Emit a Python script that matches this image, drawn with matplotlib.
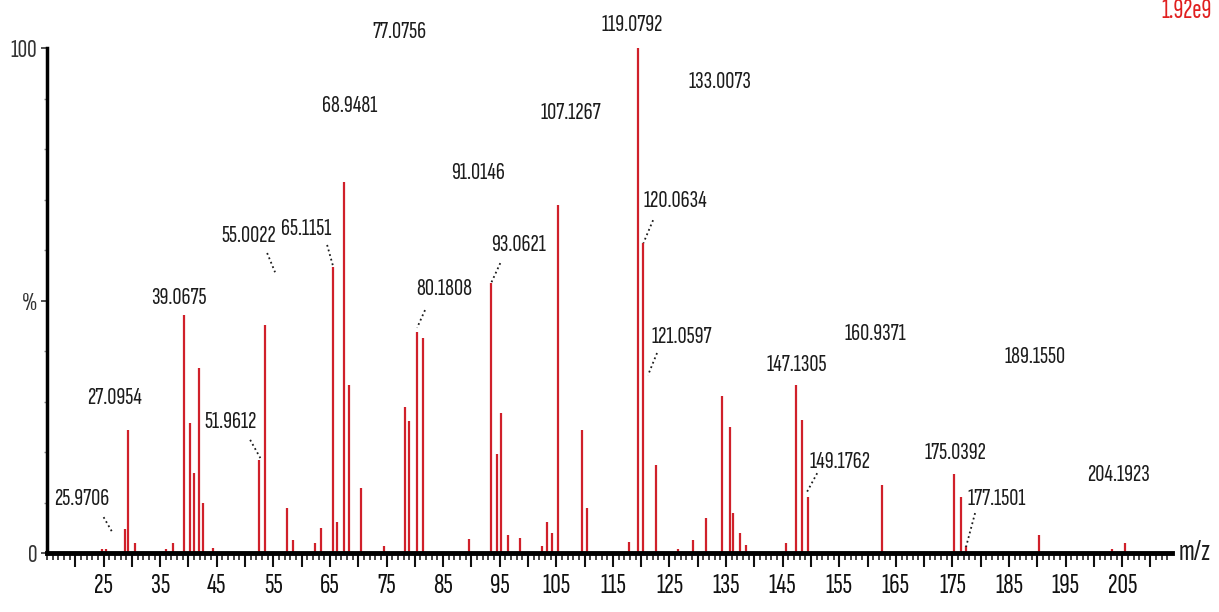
import matplotlib
matplotlib.use('Agg')
import matplotlib.pyplot as plt
from matplotlib.ticker import FixedLocator, MultipleLocator

# narrow font, the spectrum text is very condensed
plt.rcParams['font.family'] = ['Sofia Sans Extra Condensed', 'Liberation Sans Narrow', 'DejaVu Sans']

# peak list: m/z, relative intensity (%)
mz = [24.7, 25.5, 28.7, 29.4, 30.5, 36.0, 37.2, 39.26, 40.3, 41.0, 41.8, 42.5, 44.3,
      52.4, 53.6, 57.4, 58.5, 62.3, 63.4, 65.5, 66.2, 67.4, 68.4, 70.5, 74.5,
      78.3, 79.0, 80.4, 81.4, 89.6, 93.5, 94.6, 95.3, 96.4, 98.5, 102.5, 103.4, 104.2,
      105.3, 109.5, 110.5, 117.9, 119.4, 120.4, 122.6, 126.5, 129.2, 131.4, 134.3,
      135.7, 136.3, 137.5, 138.5, 145.6, 147.4, 148.4, 149.5, 162.6, 175.3, 176.5,
      177.4, 190.3, 203.2, 205.5]
intensity = [0.7, 0.7, 4.7, 24.4, 1.9, 0.7, 2.0, 47.1, 25.7, 15.9, 36.7, 10.0, 1.0,
             18.5, 45.1, 9.0, 2.6, 1.9, 5.0, 56.6, 6.2, 73.5, 33.3, 12.8, 1.3,
             29.0, 26.2, 43.8, 42.5, 2.7, 53.5, 19.6, 27.7, 3.6, 2.9, 1.3, 6.2, 4.0,
             68.9, 24.4, 9.0, 2.2, 100.0, 61.3, 17.4, 0.8, 2.6, 6.9, 31.1,
             24.9, 7.9, 4.0, 1.5, 1.9, 33.3, 26.3, 11.0, 13.5, 15.6, 11.0,
             1.3, 3.5, 0.8, 1.9]

# peak annotations (text, label centre m/z, label centre %)
label_text = ['77.0756', '119.0792', '133.0073', '107.1267', '68.9481', '91.0146',
              '120.0634', '55.0022', '65.1151', '93.0621', '39.0675', '80.1808',
              '121.0597', '160.9371', '147.1305', '189.1550', '27.0954', '51.9612',
              '25.9706', '149.1762', '175.0392', '177.1501', '204.1923']
label_x = [77.2, 118.4, 133.9, 107.5, 68.4, 91.2, 126.0, 50.6, 60.8, 98.3, 38.3, 85.2,
           127.1, 161.3, 147.5, 189.6, 26.9, 47.4, 21.2, 155.1, 175.5, 182.9, 204.3]
label_y = [103.2, 104.6, 93.2, 87.1, 88.5, 75.2, 69.7, 62.8, 64.2, 61.0, 50.5, 52.3,
           42.8, 43.4, 37.2, 38.8, 30.7, 25.9, 10.7, 18.0, 19.8, 10.7, 15.4]

# dotted leader lines (x0, y0, x1, y1)
leaders = [(25.0, 7.1, 26.6, 4.0), (50.9, 22.4, 52.7, 18.8), (53.9, 59.4, 55.3, 55.6),
           (64.5, 61.0, 65.6, 56.6), (81.8, 48.1, 80.4, 44.6), (95.1, 57.4, 93.5, 53.5),
           (122.1, 65.9, 120.4, 61.4), (122.8, 39.6, 121.2, 35.2), (151.1, 15.8, 149.3, 12.1),
           (179.0, 7.9, 177.4, 1.2)]

peak_color = '#d0202a'
text_color = '#1c1c1c'

fig = plt.figure(figsize=(12.19, 6.12), dpi=100)
ax = fig.add_axes([47 / 1219, 59 / 612, 1125 / 1219, 505 / 612])

ax.vlines(mz, 0, intensity, color=peak_color, lw=1.6, zorder=2)

for t, x, y in zip(label_text, label_x, label_y):
    ax.text(x, y, t, ha='center', va='center', fontsize=18, color=text_color, clip_on=False)
for x0, y0, x1, y1 in leaders:
    ax.plot([x0, x1], [y0, y1], ls=':', lw=1.3, color=text_color)

ax.set_xlim(15, 213.8)
ax.set_ylim(0, 100)

for s in ['top', 'right']:
    ax.spines[s].set_visible(False)
ax.spines['left'].set_linewidth(2.5)
ax.spines['bottom'].set_linewidth(3.5)
ax.spines['bottom'].set_zorder(3)

# x ticks: labels every 10, long ticks every 5, short every 1
xmajor = list(range(20, 214, 5))
ax.xaxis.set_major_locator(FixedLocator(xmajor))
ax.set_xticklabels([str(v) if v % 10 == 5 else '' for v in xmajor])
ax.xaxis.set_minor_locator(MultipleLocator(1))
ax.tick_params(axis='x', which='major', length=10, width=1.5, pad=5, labelsize=21, colors='#111111')
ax.tick_params(axis='x', which='minor', length=5, width=1.1, color='#111111')

ax.set_yticks([0, 50, 100])
ax.set_yticklabels(['0', '%', '100'])
ax.yaxis.set_minor_locator(MultipleLocator(10))
ax.tick_params(axis='y', which='major', length=4, width=1.2, pad=3, labelsize=19, colors='#333333')
ax.tick_params(axis='y', which='minor', length=2, width=1, color='#888888')

ax.annotate('m/z', xy=(1, 0), xycoords='axes fraction', xytext=(5, 0),
            textcoords='offset points', ha='left', va='center', fontsize=22, color=text_color)
fig.text(1212 / 1219, 1 - 11 / 612, '1.92e9', ha='right', va='center', fontsize=20, color='#e02020')

fig.savefig('out.png', dpi=100)
